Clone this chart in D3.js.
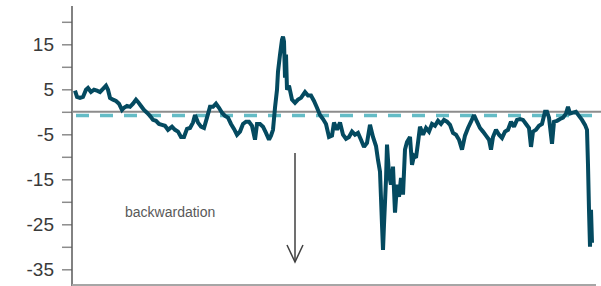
<!DOCTYPE html>
<html>
<head>
<meta charset="utf-8">
<script src="https://cdn.jsdelivr.net/npm/d3@7"></script>
<style>
  body { margin: 0; background: #fff; }
  svg { display: block; font-family: "Liberation Sans", Arial, sans-serif; }
</style>
</head>
<body>
<svg id="chart" width="601" height="286"></svg>
<script>
// trading-day offset and spread value
const days = [
  0, 2, 5, 8, 11, 13, 16, 19, 22, 25, 28, 31, 33, 35, 38, 41, 44, 47, 49, 52,
  55, 58, 61, 63, 66, 69, 72, 75, 78, 81, 84, 87, 90, 93, 97, 100, 103, 106, 109, 112,
  115, 118, 120, 123, 126, 129, 132, 135, 138, 141, 144, 147, 150, 153, 156, 159, 162, 165, 168, 171,
  174, 177, 180, 182, 185, 188, 191, 194, 196, 198, 200, 202, 203, 205, 207, 208, 209, 210, 211, 212,
  214, 217, 220, 223, 226, 230, 233, 236, 239, 242, 245, 248, 251, 254, 257, 259, 262, 265, 268, 271,
  274, 277, 280, 283, 286, 289, 292, 295, 298, 301, 303, 305, 307, 308, 309, 311, 312, 314, 316, 318,
  320, 322, 324, 326, 328, 330, 332, 335, 337, 339, 341, 343, 345, 348, 351, 354, 357, 360, 363, 366,
  369, 372, 375, 378, 381, 384, 387, 390, 393, 396, 399, 402, 405, 408, 411, 414, 416, 418, 421, 424,
  427, 430, 433, 436, 439, 442, 445, 448, 451, 454, 456, 458, 461, 464, 467, 470, 472, 474, 477, 479,
  482, 485, 488, 491, 493, 495, 498, 501, 504, 507, 510, 512, 513, 514, 515, 516, 517
]
const spread = [
  4.7, 3.3, 3.1, 3.3, 4.9, 5.3, 4.4, 4.9, 4.7, 4.4, 5.1, 5.8, 4.9, 3.1, 2.7, 2.4, 1.8, 0.4, 0.9, 1.3,
  1.1, 1.8, 2.7, 2.2, 1.3, 0.4, -0.2, -0.9, -1.8, -2.0, -2.7, -2.9, -3.1, -4.0, -3.3, -4.0, -4.4, -5.6, -5.6, -3.8,
  -3.6, -2.4, -0.7, -2.4, -3.3, -3.6, -1.3, 1.1, 1.1, 1.8, 0.9, -0.2, -0.9, -1.3, -2.7, -3.8, -5.1, -4.4, -2.7, -2.2,
  -2.2, -3.1, -6.2, -2.7, -2.7, -3.3, -4.7, -6.2, -5.3, -4.0, 0.9, 4.9, 8.9, 12.7, 16.0, 16.7, 15.6, 7.6, 12.7, 4.9,
  5.8, 2.7, 2.0, 2.7, 3.1, 4.4, 3.6, 3.6, 2.4, 0.9, -0.7, -1.6, -2.7, -5.6, -5.3, -2.4, -4.0, -2.4, -5.1, -6.0,
  -5.6, -4.4, -5.1, -4.7, -6.2, -7.8, -6.9, -2.9, -5.6, -7.6, -10.7, -13.3, -25.1, -30.7, -25.1, -15.1, -7.3, -14.0, -16.2, -12.2,
  -22.4, -16.2, -18.9, -14.7, -18.4, -8.4, -6.7, -5.6, -11.8, -9.8, -10.2, -6.9, -3.3, -5.1, -3.6, -4.4, -2.7, -3.1, -2.0, -2.7,
  -1.8, -2.2, -2.9, -4.7, -5.1, -6.2, -8.4, -5.3, -3.6, -2.2, -0.7, -2.2, -3.6, -4.4, -5.3, -6.2, -8.4, -5.6, -4.0, -5.1,
  -5.8, -4.4, -4.0, -2.2, -3.3, -1.8, -1.6, -1.8, -2.7, -3.6, -7.8, -4.4, -4.0, -3.1, -2.7, 0.0, 0.0, -1.3, -7.1, -2.2,
  -2.0, -1.6, -1.3, -0.4, 1.1, -0.4, -0.2, 0.0, -0.9, -1.8, -2.9, -4.0, -11.8, -21.8, -30.0, -21.8, -29.1
]
const yTicks = [20, 15, 10, 5, 0, -5, -10, -15, -20, -25, -30, -35]
const yLabels = [15, 5, -5, -15, -25, -35]
const averageLevel = -0.8
const noteText = "backwardation"

const svg = d3.select("#chart")

const x = d3.scaleLinear().domain([0, 517]).range([75, 592])
const y = d3.scaleLinear().domain([-35, 15]).range([269.3, 44.3])

// y axis, grey ticks on the left, labels only every other tick
const yAxis = d3.axisLeft(y)
  .tickValues(yTicks)
  .tickSize(10)
  .tickPadding(8)
  .tickFormat(d => yLabels.includes(d) ? d : "")

const gy = svg.append("g")
  .attr("transform", "translate(72,0)")
  .call(yAxis)
gy.select(".domain").remove()
gy.selectAll(".tick line").attr("stroke", "#8c8c8c").attr("stroke-width", 1.5)
gy.selectAll(".tick text")
  .attr("fill", "#3a3a3a")
  .style("font-size", "19px")
  .style("font-family", "'Liberation Sans', Arial, sans-serif")

// axis lines
svg.append("line")
  .attr("x1", 72).attr("x2", 72)
  .attr("y1", 6).attr("y2", 286)
  .attr("stroke", "#595959").attr("stroke-width", 1.5)

svg.append("line")
  .attr("x1", 72).attr("x2", 596)
  .attr("y1", 285).attr("y2", 285)
  .attr("stroke", "#a6a6a6").attr("stroke-width", 2)

// zero line
svg.append("line")
  .attr("x1", 72).attr("x2", 601)
  .attr("y1", y(0)).attr("y2", y(0))
  .attr("stroke", "#8c8c8c").attr("stroke-width", 2)

// average, dashed
svg.append("line")
  .attr("x1", x(0) + 1).attr("x2", x(517))
  .attr("y1", y(averageLevel)).attr("y2", y(averageLevel))
  .attr("stroke", "#64bcc6").attr("stroke-width", 3.5)
  .attr("stroke-dasharray", "13,11")

const line = d3.line()
  .x(d => x(d[0]))
  .y(d => y(d[1]))

svg.append("path")
  .datum(d3.zip(days, spread))
  .attr("d", line)
  .attr("fill", "none")
  .attr("stroke", "#044a60")
  .attr("stroke-width", 4)
  .attr("stroke-linejoin", "miter")
  .attr("stroke-miterlimit", 2)

// arrow pointing down
const arrow = svg.append("g").attr("stroke", "#404040").attr("stroke-width", 1.5).attr("fill", "none")
arrow.append("line").attr("x1", 295).attr("x2", 295).attr("y1", 153).attr("y2", 262)
arrow.append("path").attr("d", "M287,245 L295,262 L303,245")

svg.append("text")
  .attr("x", 125).attr("y", 217)
  .attr("fill", "#595959")
  .style("font-size", "14px")
  .text(noteText)
</script>
</body>
</html>
